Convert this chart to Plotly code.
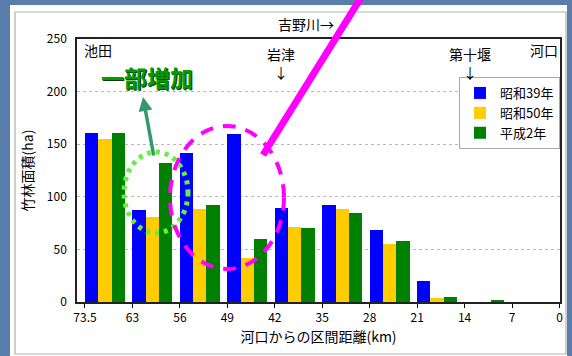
import plotly.graph_objects as go

# Sections of the Yoshino River, counted as distance from the river mouth (km)
sections = ["73.5-63", "63-56", "56-49", "49-42", "42-35", "35-28", "28-21", "21-14", "14-7", "7-0"]
boundary_labels = ["73.5", "63", "56", "49", "42", "35", "28", "21", "14", "7", "0"]

# Bamboo forest area (ha) per section and survey year
s39 = [161, 87, 142, 160, 89, 92, 68, 20, 0, 0]
s50 = [155, 81, 88, 42, 71, 88, 55, 4, 0, 0]
h2 = [161, 132, 92, 60, 70, 85, 58, 5, 1, 0]

series_names = ["昭和39年", "昭和50年", "平成2年"]
series_values = [s39, s50, h2]
series_colors = ["#0000ff", "#ffcc00", "#008000"]

FONT = "Noto Sans CJK JP"
W, H = 572, 356
ML, MR, MT, MB = 77, 12, 39, 54
PW, PH = W - ML - MR, H - MT - MB


def fx(px):
    return (px - ML) / PW


def fy(py):
    return (H - MB - py) / PH


positions = list(range(len(sections)))
bar_w = 0.28

fig = go.Figure()
for k, (name, vals, col) in enumerate(zip(series_names, series_values, series_colors)):
    fig.add_trace(go.Bar(
        x=positions, y=vals, name=name,
        width=bar_w, offset=k * bar_w,
        marker=dict(color=col, line=dict(width=0)),
        customdata=sections,
    ))

shapes = [
    # white slide panel and chart frame
    dict(type="rect", xref="paper", yref="paper", x0=fx(10), x1=fx(567), y0=fy(5), y1=fy(357),
         fillcolor="white", line=dict(width=0), layer="below"),
    dict(type="rect", xref="paper", yref="paper", x0=fx(15), x1=fx(566), y0=fy(12), y1=fy(354),
         fillcolor="white", line=dict(color="#b0b0b0", width=1.2), layer="below"),
    # green dotted ellipse
    dict(type="circle", xref="paper", yref="paper", x0=fx(124), x1=fx(188), y0=fy(152), y1=fy(233),
         line=dict(color="#66ee44", width=5, dash="4px,5px")),
    # magenta dashed ellipse
    dict(type="circle", xref="paper", yref="paper", x0=fx(170), x1=fx(284), y0=fy(126), y1=fy(269),
         line=dict(color="#ff00ff", width=4, dash="13px,10px")),
    # magenta pointer line
    dict(type="line", xref="paper", yref="paper", x0=fx(263), y0=fy(155), x1=fx(362), y1=fy(-4),
         line=dict(color="#ff00ff", width=7)),
]

txt = dict(family=FONT, size=14, color="black")


def label(text, px, py, **kw):
    d = dict(text=text, x=fx(px), y=fy(py), xref="paper", yref="paper", showarrow=False,
             xanchor="center", yanchor="middle", font=txt)
    d.update(kw)
    return d


annotations = [
    label("吉野川→", 306, 24),
    label("池田", 82, 50, xanchor="left"),
    label("岩津<br>↓", 281, 42, yanchor="top"),
    label("第十堰<br>↓", 470, 42, yanchor="top"),
    label("河口", 560, 50, xanchor="right"),
    label("一部増加", 147, 77,
          font=dict(family=FONT, size=23, color="#009c00", weight=700,
                    shadow="1px 1px 0px #0a3a0a")),
    dict(text="", x=fx(143), y=fy(97), xref="paper", yref="paper", showarrow=True,
         ax=11, ay=60, arrowcolor="#339970", arrowwidth=3.5, arrowhead=2, arrowsize=0.8, standoff=0),
]

fig.update_layout(
    width=W, height=H,
    margin=dict(l=ML, r=MR, t=MT, b=MB, autoexpand=False),
    paper_bgcolor="#5b7dab",
    plot_bgcolor="white",
    barmode="overlay",
    bargap=0,
    font=dict(family=FONT, size=12, color="black"),
    shapes=shapes,
    annotations=annotations,
    legend=dict(
        x=fx(459), y=fy(77), xanchor="left", yanchor="top",
        bgcolor="white", bordercolor="#a8a8a8", borderwidth=1,
        font=dict(family=FONT, size=13), itemwidth=30, tracegroupgap=0,
    ),
    xaxis=dict(
        range=[-0.168, 10.01],
        tickvals=list(range(len(boundary_labels))), ticktext=boundary_labels,
        ticks="outside", ticklen=4, tickcolor="black",
        showline=True, linecolor="#222", linewidth=1.5, mirror=True,
        showgrid=False, zeroline=False,
        tickfont=dict(family=FONT, size=12),
        title=dict(text="河口からの区間距離(km)", font=dict(family=FONT, size=14), standoff=8),
    ),
    yaxis=dict(
        range=[0, 250], tickvals=[0, 50, 100, 150, 200, 250],
        ticks="", ticklabelstandoff=6,
        showline=True, linecolor="#222", linewidth=1.5, mirror=True,
        showgrid=True, gridcolor="#b8b8b8", griddash="dot", gridwidth=1,
        zeroline=False,
        tickfont=dict(family=FONT, size=12),
        title=dict(text="竹林面積(ha)", font=dict(family=FONT, size=14), standoff=10),
    ),
)

fig.write_html("out.html")
